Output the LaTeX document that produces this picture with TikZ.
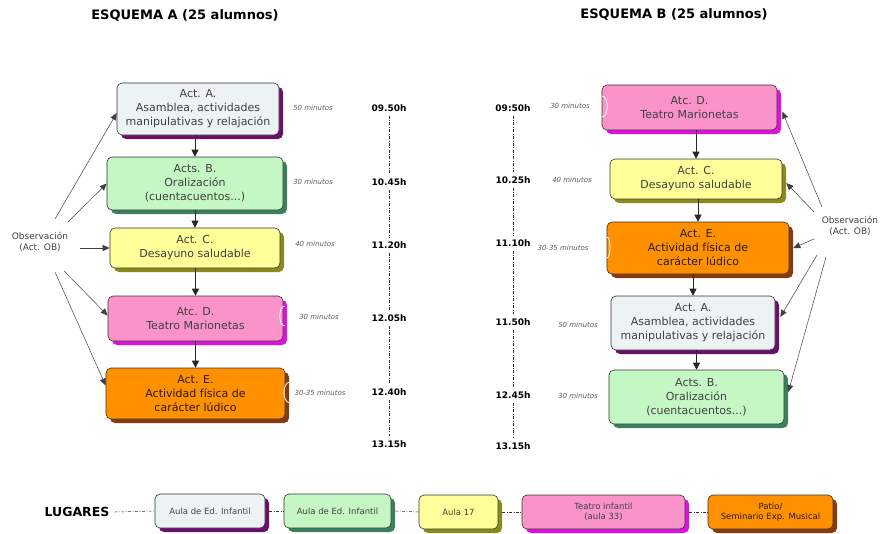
\documentclass[tikz,border=0pt]{standalone}
\usepackage{fontspec}
\setmainfont{DejaVu Sans}
\usetikzlibrary{arrows.meta,shadows,calc}
\definecolor{cA}{HTML}{EDF2F5}\definecolor{sA}{HTML}{6B0F6B}
\definecolor{cB}{HTML}{C4F7C4}\definecolor{sB}{HTML}{3D8060}
\definecolor{cC}{HTML}{FFFF99}\definecolor{sC}{HTML}{8A8A1A}
\definecolor{cD}{HTML}{F993C9}\definecolor{sD}{HTML}{E010E0}
\definecolor{cE}{HTML}{FF9100}\definecolor{sE}{HTML}{8B3A0F}
\definecolor{txt}{HTML}{404040}
\tikzset{
  actbox/.style={draw=black!80, line width=0.6pt, rounded corners=5pt, align=center,
    inner sep=0pt, text=txt, font=\fontsize{11}{14}\selectfont},
  lugbox/.style={actbox, font=\fontsize{8.5}{10.5}\selectfont},
  shad/.style={drop shadow={shadow xshift=4pt, shadow yshift=-4pt, fill=#1, opacity=1}},
  seqarrow/.style={-{Triangle[length=7pt,width=7pt]}, line width=0.6pt, black!85},
  obsarrow/.style={-{Triangle[length=7pt,width=6pt]}, line width=0.5pt, black!75},
  timelbl/.style={font=\bfseries\fontsize{9}{10}\selectfont, inner sep=1pt},
  minlbl/.style={font=\itshape\fontsize{7}{8}\selectfont, text=black!65},
  timeline/.style={line width=0.5pt, black!80, dash pattern=on 3pt off 1.5pt on 0.8pt off 1.5pt},
  obslbl/.style={align=center, font=\fontsize{9}{11}\selectfont, text=txt},
  title/.style={font=\bfseries\fontsize{13}{15}\selectfont},
  glint/.style={draw=white, line width=0.8pt}
}
\begin{document}
\begin{tikzpicture}[x=1pt,y=-1pt]
\useasboundingbox (0,0) rectangle (882,533);
% titles
\node[title] (tA) at (185,16) {ESQUEMA A (25 alumnos)};
\node[title] (tB) at (674,15) {ESQUEMA B (25 alumnos)};
% scheme A
\node[actbox, fill=cA, shad=sA, minimum width=162pt, minimum height=52pt] (aA) at (198,109) {Act. A.\\Asamblea, actividades\\manipulativas y relajación};
\node[actbox, fill=cB, shad=sB, minimum width=176pt, minimum height=53pt] (aB) at (195,183.5) {Acts. B.\\Oralización\\(cuentacuentos...)};
\node[actbox, fill=cC, shad=sC, minimum width=170pt, minimum height=40pt] (aC) at (195,248) {Act. C.\\Desayuno saludable};
\node[actbox, fill=cD, shad=sD, minimum width=175pt, minimum height=45pt] (aD) at (195.5,318.5) {Atc. D.\\Teatro Marionetas};
\node[actbox, fill=cE, shad=sE, minimum width=179pt, minimum height=51pt, text=black!80!brown] (aE) at (195.5,393.5) {Act. E.\\Actividad física de\\carácter lúdico};
\foreach \a/\b in {aA/aB,aB/aC,aC/aD,aD/aE}
  \draw[seqarrow] (\b.north |- \a.south) -- (\b.north);
\draw[glint] (285,306) .. controls (278,306) and (278,326) .. (285,326);
\draw[glint] (290,382) .. controls (282,382) and (282,403) .. (290,403);
% scheme B
\node[actbox, fill=cD, shad=sD, minimum width=175pt, minimum height=45pt] (bD) at (689.5,107.5) {Atc. D.\\Teatro Marionetas};
\node[actbox, fill=cC, shad=sC, minimum width=172pt, minimum height=40pt] (bC) at (696,179) {Act. C.\\Desayuno saludable};
\node[actbox, fill=cE, shad=sE, minimum width=182pt, minimum height=52pt, text=black!80!brown] (bE) at (698,248) {Act. E.\\Actividad física de\\carácter lúdico};
\node[actbox, fill=cA, shad=sA, minimum width=164pt, minimum height=54pt] (bA) at (693,323) {Act. A.\\Asamblea, actividades\\manipulativas y relajación};
\node[actbox, fill=cB, shad=sB, minimum width=175pt, minimum height=54pt] (bB) at (696.5,397) {Acts. B.\\Oralización\\(cuentacuentos...)};
\foreach \a/\b in {bD/bC,bC/bE,bE/bA,bA/bB}
  \draw[seqarrow] (\b.north |- \a.south) -- (\b.north);
\draw[glint] (602,96) .. controls (609,96) and (609,117) .. (602,117);
\draw[glint] (607,237) .. controls (611,237) and (611,258) .. (607,258);
% times A
\node[timelbl] (ta1) at (389,108) {09.50h};
\node[timelbl] (ta2) at (389,182) {10.45h};
\node[timelbl] (ta3) at (389,245) {11.20h};
\node[timelbl] (ta4) at (389,318) {12.05h};
\node[timelbl] (ta5) at (389,392) {12.40h};
\node[timelbl] (ta6) at (389,444) {13.15h};
\foreach \a/\b in {ta1/ta2,ta2/ta3,ta3/ta4,ta4/ta5,ta5/ta6}
  \draw[timeline] ([yshift=-3pt]\a.south) -- ([yshift=3pt]\b.north);
% times B
\node[timelbl] (tb1) at (513,108) {09:50h};
\node[timelbl] (tb2) at (513,180) {10.25h};
\node[timelbl] (tb3) at (513,243) {11.10h};
\node[timelbl] (tb4) at (513,322) {11.50h};
\node[timelbl] (tb5) at (513,395) {12.45h};
\node[timelbl] (tb6) at (513,446) {13.15h};
\foreach \a/\b in {tb1/tb2,tb2/tb3,tb3/tb4,tb4/tb5,tb5/tb6}
  \draw[timeline] ([yshift=-3pt]\a.south) -- ([yshift=3pt]\b.north);
% minutes A
\node[minlbl] (ma1) at (313,108) {50 minutos};
\node[minlbl] (ma2) at (313,182) {30 minutos};
\node[minlbl] (ma3) at (315,244) {40 minutos};
\node[minlbl] (ma4) at (319,317) {30 minutos};
\node[minlbl] (ma5) at (320,393) {30-35 minutos};
% minutes B
\node[minlbl] (mb1) at (570,106) {30 minutos};
\node[minlbl] (mb2) at (572,180) {40 minutos};
\node[minlbl] (mb3) at (563,248) {30-35 minutos};
\node[minlbl] (mb4) at (578,325) {50 minutos};
\node[minlbl] (mb5) at (578,396) {30 minutos};
% observation left
\node[obslbl] (obsL) at (40,242) {Observación\\(Act. OB)};
\coordinate (oL1) at (55,219);
\coordinate (oL2) at (68,222);
\coordinate (oL3) at (80,248);
\coordinate (oL4) at (64,271);
\coordinate (oL5) at (55,272);
\draw[obsarrow] (oL1) -- ([yshift=-4pt]aA.west);
\draw[obsarrow] (oL2) -- (aB.west);
\draw[obsarrow] (oL3) -- (aC.west);
\draw[obsarrow] (oL4) -- ([yshift=3pt]aD.west);
\draw[obsarrow] (oL5) -- ([yshift=8pt]aE.west);
% observation right
\node[obslbl] (obsR) at (850,226) {Observación\\(Act. OB)};
\coordinate (oR1) at (822,207);
\coordinate (oR2) at (814,212);
\coordinate (oR3) at (814,239);
\coordinate (oR4) at (817,255);
\coordinate (oR5) at (826,257);
\draw[obsarrow] (oR1) -- ([xshift=5pt,yshift=-4pt]bD.east);
\draw[obsarrow] (oR2) -- ([xshift=4pt,yshift=-4pt]bC.east);
\draw[obsarrow] (oR3) -- ([xshift=4pt]bE.east);
\draw[obsarrow] (oR4) -- ([xshift=5pt,yshift=6pt]bA.east);
\draw[obsarrow] (oR5) -- ([xshift=4pt,yshift=5pt]bB.east);
% lugares
\node[font=\bfseries\fontsize{12.5}{14}\selectfont, inner sep=1pt] (lug) at (77,512) {LUGARES};
\node[lugbox, fill=cA, shad=sA, minimum width=110pt, minimum height=34pt] (l1) at (210,511) {Aula de Ed. Infantil};
\node[lugbox, fill=cB, shad=sB, minimum width=107pt, minimum height=34pt] (l2) at (337.5,511) {Aula de Ed. Infantil};
\node[lugbox, fill=cC, shad=sC, minimum width=79pt, minimum height=34pt] (l3) at (458.5,512) {Aula 17};
\node[lugbox, fill=cD, shad=sD, minimum width=163pt, minimum height=34pt] (l4) at (603.5,512) {Teatro infantil\\(aula 33)};
\node[lugbox, fill=cE, shad=sE, minimum width=125pt, minimum height=34pt, text=black!80!brown] (l5) at (770.5,512) {Patio/\\Seminario Exp. Musical};
\draw[timeline] ([xshift=4pt]lug.east) -- (l1.west);
\foreach \a/\b in {l1/l2,l2/l3,l3/l4,l4/l5}
  \draw[timeline] ([xshift=4pt]\a.east) -- (\b.west);
\end{tikzpicture}
\end{document}
